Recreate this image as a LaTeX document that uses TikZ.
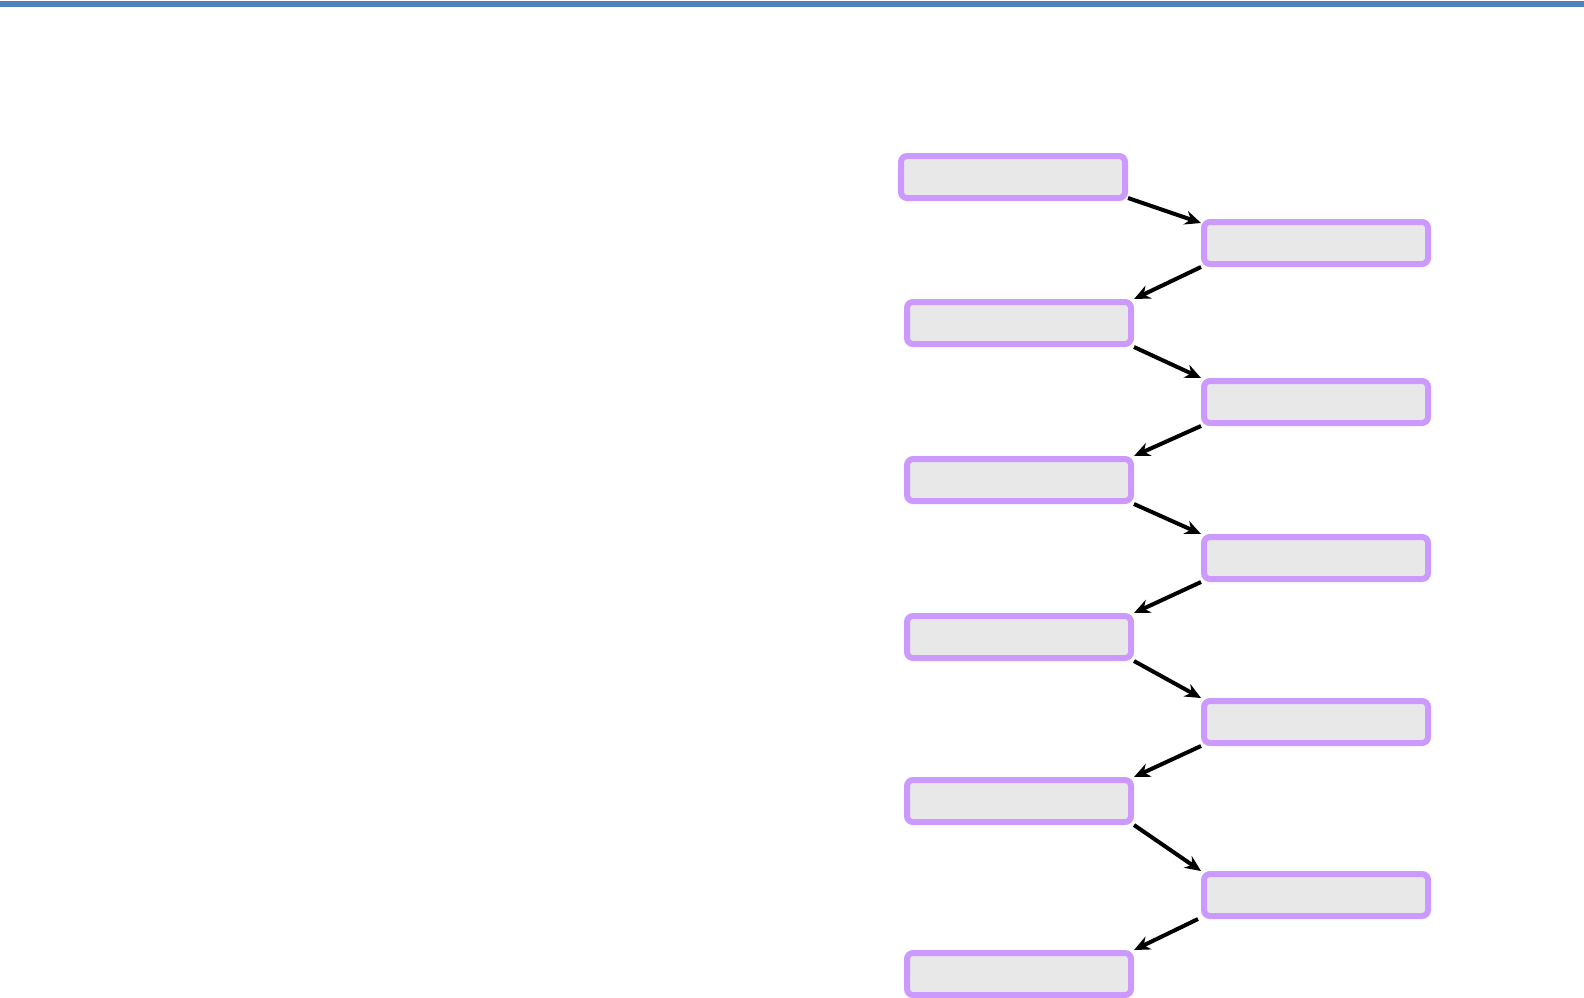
\documentclass[tikz,border=0pt]{standalone}
\usetikzlibrary{arrows.meta}
\definecolor{topblue}{HTML}{4F81BD}
\definecolor{boxedge}{HTML}{CC99FF}
\definecolor{boxfill}{HTML}{E8E8E8}
\tikzset{
  flowbox/.style={draw=boxedge, fill=boxfill, line width=6pt, rounded corners=6pt,
    minimum width=224pt, minimum height=42pt, inner sep=0pt, anchor=north west},
  flowarrow/.style={-{Stealth[length=16pt,width=14pt]}, line width=4pt, black}
}
\begin{document}
\begin{tikzpicture}[x=1pt,y=-1pt]
\useasboundingbox (0,0) rectangle (1584,997);
\fill[topblue] (0,1) rectangle (1584,6.5);
\node[flowbox] (L1) at (898,153) {};
\node[flowbox] (R1) at (1201,219) {};
\node[flowbox] (L2) at (904,299) {};
\node[flowbox] (R2) at (1201,378) {};
\node[flowbox] (L3) at (904,456) {};
\node[flowbox] (R3) at (1201,534) {};
\node[flowbox] (L4) at (904,613) {};
\node[flowbox] (R4) at (1201,698) {};
\node[flowbox] (L5) at (904,777) {};
\node[flowbox] (R5) at (1201,871) {};
\node[flowbox] (L6) at (904,950) {};
\draw[flowarrow] ([yshift=3pt]L1.south east) -- ([yshift=-4pt]R1.north west);
\draw[flowarrow] (R1.south west) -- (L2.north east);
\draw[flowarrow] (L2.south east) -- (R2.north west);
\draw[flowarrow] (R2.south west) -- (L3.north east);
\draw[flowarrow] (L3.south east) -- (R3.north west);
\draw[flowarrow] (R3.south west) -- (L4.north east);
\draw[flowarrow] (L4.south east) -- (R4.north west);
\draw[flowarrow] (R4.south west) -- (L5.north east);
\draw[flowarrow] (L5.south east) -- (R5.north west);
\draw[flowarrow] ([xshift=-3pt]R5.south west) -- (L6.north east);
\end{tikzpicture}
\end{document}
